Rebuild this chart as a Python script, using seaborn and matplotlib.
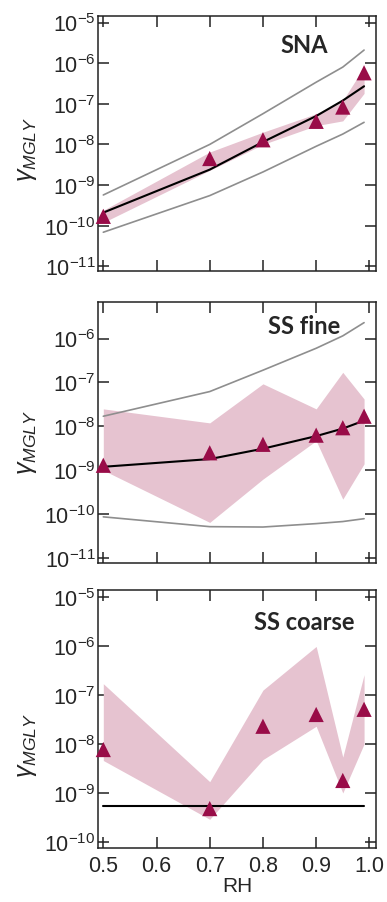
import numpy as np
import matplotlib
matplotlib.use('Agg')
import matplotlib.pyplot as plt
import seaborn as sns
from matplotlib.ticker import FixedLocator, NullLocator, LogFormatterSciNotation

# ── data ─────────────────────────────────────────────────────────────────────
rh = [0.5, 0.7, 0.8, 0.9, 0.95, 0.99]

sna_obs   = [1.7e-10, 4.5e-9, 1.3e-8, 3.7e-8, 8.3e-8, 5.8e-7]
sna_lo    = [1.2e-10, 2.3e-9, 1.0e-8, 2.9e-8, 3.8e-8, 1.8e-7]
sna_hi    = [2.4e-10, 6.5e-9, 2.0e-8, 5.7e-8, 1.2e-7, 8.0e-7]
sna_model = [2.1e-10, 2.4e-9, 1.15e-8, 5.0e-8, 1.2e-7, 2.7e-7]
sna_upper = [5.7e-10, 1.0e-8, 5.7e-8, 3.4e-7, 8.0e-7, 2.1e-6]
sna_lower = [6.9e-11, 5.5e-10, 2.1e-9, 9.0e-9, 1.8e-8, 3.5e-8]

fine_obs   = [1.3e-9, 2.5e-9, 3.9e-9, 6.3e-9, 9.3e-9, 1.7e-8]
fine_lo    = [1.0e-9, 6.5e-11, 6.3e-10, 4.7e-9, 2.2e-10, 1.4e-9]
fine_hi    = [2.5e-8, 1.2e-8, 9.3e-8, 2.5e-8, 1.7e-7, 4.2e-8]
fine_model = [1.2e-9, 1.8e-9, 3.1e-9, 6.0e-9, 8.9e-9, 1.35e-8]
fine_upper = [1.7e-8, 6.2e-8, 1.9e-7, 6.0e-7, 1.15e-6, 2.3e-6]
fine_lower = [8.7e-11, 5.2e-11, 5.1e-11, 6.1e-11, 6.8e-11, 7.9e-11]

coarse_obs   = [7.7e-9, 4.8e-10, 2.3e-8, 4.0e-8, 1.8e-9, 5.1e-8]
coarse_lo    = [4.6e-9, 2.9e-10, 4.8e-9, 2.3e-8, 1.0e-9, 1.0e-8]
coarse_hi    = [1.7e-7, 1.7e-9, 1.26e-7, 9.8e-7, 5.4e-9, 2.6e-7]
coarse_model = [5.3e-10, 5.3e-10, 5.3e-10, 5.3e-10, 5.3e-10, 5.3e-10]

panel_names = ['SNA', 'SS fine', 'SS coarse']
x_ticks = [0.5, 0.6, 0.7, 0.8, 0.9, 1.0]
x_ticklabels = ['0.5', '0.6', '0.7', '0.8', '0.9', '1.0']

OBS_COLOR  = '#990c48'
BAND_COLOR = '#e6c3d0'
GRAY       = '#8e8e8e'

sns.set_style('ticks')
plt.rcParams['font.family'] = ['Liberation Sans', 'DejaVu Sans']
plt.rcParams['mathtext.fontset'] = 'custom'
plt.rcParams['mathtext.rm'] = 'Liberation Sans'
plt.rcParams['mathtext.it'] = 'Liberation Sans:italic'
plt.rcParams['axes.unicode_minus'] = False

fig = plt.figure(figsize=(3.87, 9.03), dpi=100)

boxes = [
    [0.254, 0.699, 0.717, 0.2817],
    [0.254, 0.375, 0.717, 0.2900],
    [0.254, 0.060, 0.717, 0.2850],
]
ylims = [(10**-11.11, 10**-4.85), (10**-11.12, 10**-5.157), (10**-10.12, 10**-4.866)]
ytick_sets = [10.0**np.arange(-11, -4), 10.0**np.arange(-11, -5), 10.0**np.arange(-10, -4)]
label_pos = [(0.742, 0.891), (0.742, 0.907), (0.742, 0.878)]
ylab_y = [0.48, 0.465, 0.40]

panels = [
    (sna_obs, sna_lo, sna_hi, sna_model, sna_upper, sna_lower),
    (fine_obs, fine_lo, fine_hi, fine_model, fine_upper, fine_lower),
    (coarse_obs, coarse_lo, coarse_hi, coarse_model, None, None),
]

for i, (obs, lo, hi, model, upper, lower) in enumerate(panels):
    ax = fig.add_axes(boxes[i])
    ax.set_yscale('log')

    ax.fill_between(rh, lo, hi, color=BAND_COLOR, lw=0, zorder=1)
    if upper is not None:
        sns.lineplot(x=rh, y=upper, ax=ax, color=GRAY, lw=1.2, zorder=2)
        sns.lineplot(x=rh, y=lower, ax=ax, color=GRAY, lw=1.2, zorder=2)
    sns.lineplot(x=rh, y=model, ax=ax, color='black', lw=1.5, zorder=3)
    sns.scatterplot(x=rh, y=obs, ax=ax, marker='^', s=120, color=OBS_COLOR,
                    edgecolor='none', zorder=4, clip_on=False)

    ax.set_xlim(0.4906, 1.012)
    ax.set_ylim(*ylims[i])
    ax.yaxis.set_major_locator(FixedLocator(ytick_sets[i]))
    ax.yaxis.set_major_formatter(LogFormatterSciNotation())
    ax.yaxis.set_minor_locator(NullLocator())
    ax.set_xticks(x_ticks)
    ax.tick_params(which='major', direction='in', top=True, right=True,
                   length=8, width=1.1, labelsize=15.5, color='#222222')
    ax.tick_params(axis='y', pad=2)
    ax.tick_params(axis='x', pad=5)
    for sp in ax.spines.values():
        sp.set_linewidth(1.1)
        sp.set_color('#222222')

    if i < 2:
        ax.set_xticklabels([])
        ax.set_xlabel('')
    else:
        ax.set_xticklabels(x_ticklabels)
        ax.set_xlabel('RH', fontsize=15, labelpad=0)

    ax.set_ylabel(r'$\gamma_{MGLY}$', fontsize=18)
    ax.yaxis.set_label_coords(-0.215, ylab_y[i])

    ax.text(label_pos[i][0], label_pos[i][1], panel_names[i], transform=ax.transAxes,
            ha='center', va='center', fontsize=17, fontweight='bold',
            family=['Lato', 'DejaVu Sans'])

fig.savefig('out.png', dpi=100)
